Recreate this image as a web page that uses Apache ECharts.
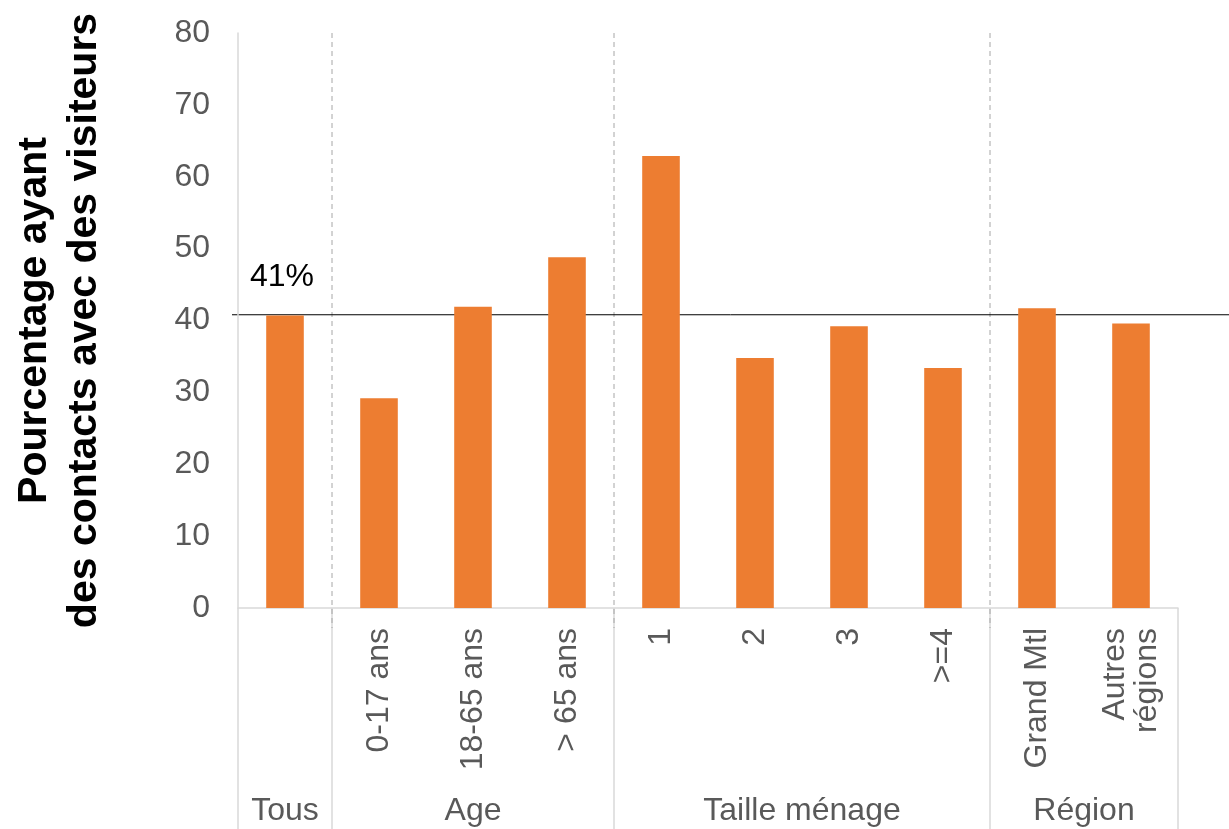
<!DOCTYPE html>
<html>
<head>
<meta charset="utf-8">
<script src="https://cdn.jsdelivr.net/npm/echarts@6/dist/echarts.min.js"></script>
<style>
  html, body { margin: 0; padding: 0; background: #fff; }
  #chart { width: 1229px; height: 829px; }
</style>
</head>
<body>
<div id="chart"></div>
<script>
// data
const categories = ['', '0-17 ans', '18-65 ans', '> 65 ans', '1', '2', '3', '>=4', 'Grand Mtl', 'Autres\nrégions']
const values = [40.7, 29.2, 41.9, 48.8, 62.9, 34.8, 39.2, 33.4, 41.7, 39.6]
const groupNames = ['Tous', 'Age', 'Taille ménage', 'Région']
const groupSizes = [1, 3, 4, 2]
const overallValue = 40.8
const overallLabel = '41%'
const yTicks = [0, 80, 10] // min, max, interval

const font = 'Liberation Sans, Arial, sans-serif'
const grey = '#595959'

let myChart = echarts.init(document.getElementById('chart'))
let options = {
  animation: false,
  textStyle: { fontFamily: font },
  grid: { left: 238, right: 51, top: 33, bottom: 221, containLabel: false, outerBoundsMode: 'none' },
  xAxis: {
    type: 'category',
    data: categories,
    axisLine: { show: true, lineStyle: { color: '#d9d9d9', width: 1.5 } },
    axisTick: { show: false },
    axisLabel: {
      rotate: 90,
      margin: 20,
      fontSize: 32,
      lineHeight: 32,
      color: grey,
      interval: 0
    }
  },
  yAxis: {
    type: 'value',
    min: yTicks[0],
    max: yTicks[1],
    interval: yTicks[2],
    name: 'Pourcentage ayant\ndes contacts avec des visiteurs',
    nameLocation: 'middle',
    nameRotate: 90,
    nameGap: 128,
    nameTextStyle: { fontSize: 41, fontWeight: 'bold', color: '#000', lineHeight: 50 },
    axisLine: { show: true, lineStyle: { color: '#d9d9d9', width: 1.5 } },
    axisTick: { show: false },
    splitLine: { show: false },
    axisLabel: { fontSize: 32, color: grey, margin: 28 }
  },
  series: [
    {
      type: 'bar',
      data: values,
      barWidth: '40%',
      itemStyle: { color: '#ed7d31' }
    }
  ]
}
myChart.setOption(options)

// group separators, group labels and the overall line, placed via the chart's scales
function addGraphics() {
  const px = i => myChart.convertToPixel({ xAxisIndex: 0 }, i)
  const step = px(1) - px(0)
  const yTop = myChart.convertToPixel({ yAxisIndex: 0 }, yTicks[1])
  const yBase = myChart.convertToPixel({ yAxisIndex: 0 }, 0)
  const yAvg = myChart.convertToPixel({ yAxisIndex: 0 }, overallValue)
  const left = px(0) - step / 2
  const elements = []
  let idx = 0
  let edges = [left]
  groupSizes.forEach((n, g) => {
    const x0 = px(idx) - step / 2
    const x1 = px(idx + n - 1) + step / 2
    elements.push({
      type: 'text',
      style: {
        text: groupNames[g], x: (x0 + x1) / 2, y: 811,
        align: 'center', verticalAlign: 'middle',
        fontSize: 32, fill: grey, fontFamily: font
      }
    })
    idx += n
    edges.push(x1)
  })
  edges.forEach((x, i) => {
    elements.push({
      type: 'line',
      shape: { x1: x, y1: yBase, x2: x, y2: 829 },
      style: { stroke: '#d9d9d9', lineWidth: 1.5 }
    })
    if (i > 0 && i < edges.length - 1) {
      elements.push({
        type: 'line',
        shape: { x1: x, y1: yTop, x2: x, y2: yBase + 20 },
        style: { stroke: '#a6a6a6', lineWidth: 1, lineDash: [5, 4] }
      })
    }
  })
  elements.push({
    type: 'line',
    shape: { x1: left - 6, y1: yAvg, x2: 1229, y2: yAvg },
    style: { stroke: '#000', lineWidth: 1 }
  })
  elements.push({
    type: 'text',
    style: {
      text: overallLabel, x: left + 12, y: yAvg - 38,
      align: 'left', verticalAlign: 'middle',
      fontSize: 32, fill: '#000', fontFamily: font
    }
  })
  myChart.setOption({ graphic: elements })
}
addGraphics()
</script>
</body>
</html>
